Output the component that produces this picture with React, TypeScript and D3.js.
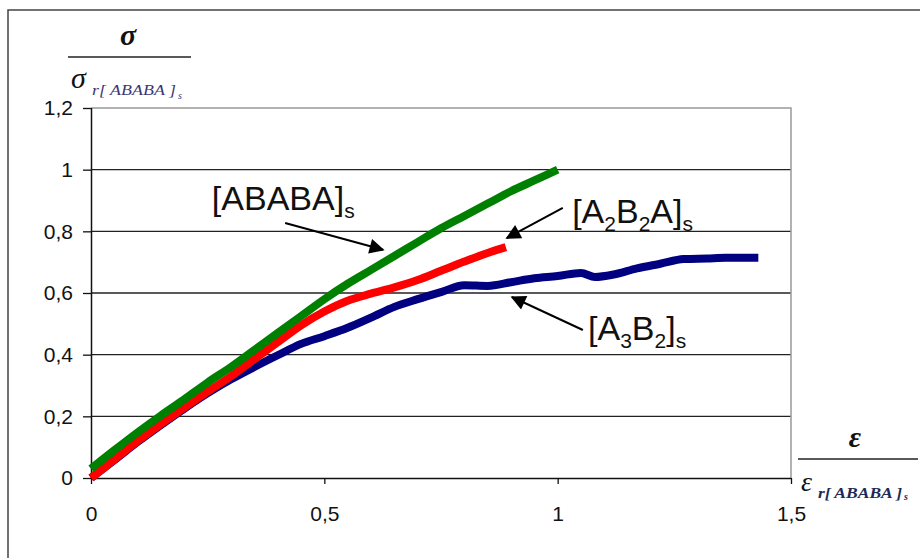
import * as d3 from "d3";
import { useEffect, useRef } from "react";

// strain / strain_r values
const ababaX = [0, 0.05, 0.1, 0.15, 0.2, 0.25, 0.3, 0.35, 0.4, 0.45, 0.5, 0.55, 0.6, 0.65, 0.7, 0.75, 0.8, 0.85, 0.9, 0.95, 1.0];
const ababaY = [0.03, 0.09, 0.148, 0.203, 0.255, 0.31, 0.36, 0.415, 0.47, 0.525, 0.58, 0.63, 0.675, 0.72, 0.765, 0.81, 0.85, 0.89, 0.93, 0.965, 1.0];

const a2b2aX = [0, 0.05, 0.1, 0.15, 0.2, 0.25, 0.3, 0.35, 0.4, 0.45, 0.5, 0.55, 0.6, 0.65, 0.7, 0.75, 0.8, 0.85, 0.889];
const a2b2aY = [0.0, 0.06, 0.12, 0.175, 0.228, 0.28, 0.33, 0.385, 0.44, 0.495, 0.54, 0.575, 0.598, 0.618, 0.642, 0.672, 0.702, 0.73, 0.749];

const a3b2X = [0, 0.05, 0.1, 0.15, 0.2, 0.25, 0.3, 0.35, 0.4, 0.45, 0.5, 0.55, 0.6, 0.65, 0.7, 0.75, 0.8, 0.85, 0.9, 0.95, 1.0, 1.05, 1.08, 1.12, 1.17, 1.22, 1.27, 1.32, 1.36, 1.43];
const a3b2Y = [0, 0.058, 0.117, 0.172, 0.225, 0.275, 0.32, 0.36, 0.398, 0.435, 0.46, 0.487, 0.52, 0.555, 0.58, 0.603, 0.625, 0.623, 0.635, 0.648, 0.655, 0.665, 0.652, 0.66, 0.68, 0.695, 0.71, 0.712, 0.714, 0.714];

const xTicks = [0, 0.5, 1, 1.5];
const yTicks = [0, 0.2, 0.4, 0.6, 0.8, 1, 1.2];

const fmt = (v: number) => String(v).replace(".", ",");

export default function App() {
  const ref = useRef<SVGSVGElement>(null);
  const width = 920;
  const height = 558;

  useEffect(() => {
    const svg = d3.select(ref.current);
    svg.selectAll("*").remove();

    const x = d3.scaleLinear([0, 1.5], [91, 791]);
    const y = d3.scaleLinear([0, 1.2], [478, 108]);
    const sans = "'Liberation Sans', Arial, sans-serif";
    const serif = "'Liberation Serif', 'Times New Roman', serif";

    svg.append("defs").append("marker")
      .attr("id", "head")
      .attr("viewBox", "0 0 10 10")
      .attr("refX", 9).attr("refY", 5)
      .attr("markerWidth", 9).attr("markerHeight", 7.5)
      .attr("markerUnits", "strokeWidth")
      .attr("orient", "auto")
      .append("path").attr("d", "M0,0L10,5L0,10Z").attr("fill", "#000");

    // outer frame
    svg.append("path")
      .attr("d", `M8,${height}V10H${width}`)
      .attr("fill", "none").attr("stroke", "#444").attr("stroke-width", 1.5);

    // grid
    svg.append("g").selectAll("line")
      .data(yTicks.filter((d) => d > 0 && d < 1.2))
      .join("line")
      .attr("x1", x(0)).attr("x2", x(1.5))
      .attr("y1", (d) => y(d)).attr("y2", (d) => y(d))
      .attr("stroke", "#222").attr("stroke-width", 1.3);

    // plot border (grey)
    svg.append("path")
      .attr("d", `M${x(0)},${y(1.2)}H${x(1.5)}V${y(0)}`)
      .attr("fill", "none").attr("stroke", "#999").attr("stroke-width", 1.5);

    // axes
    const yAxis = d3.axisLeft(y).tickValues(yTicks).tickSize(8).tickPadding(10).tickFormat((d) => fmt(+d));
    const gy = svg.append("g").attr("transform", `translate(${x(0)},0)`).call(yAxis);
    const xAxis = d3.axisBottom(x).tickValues(xTicks).tickSize(6).tickPadding(22).tickFormat((d) => fmt(+d));
    const gx = svg.append("g").attr("transform", `translate(0,${y(0)})`).call(xAxis);
    [gx, gy].forEach((g) => {
      g.select(".domain").attr("stroke", "#111").attr("stroke-width", 1.5);
      g.selectAll(".tick line").attr("stroke", "#111").attr("stroke-width", 1.3);
      g.selectAll(".tick text").attr("font-family", sans).attr("font-size", 21).attr("fill", "#111");
    });
    gx.select(".domain").attr("d", `M${x(0)},0.5H${x(1.5)}`);
    gy.select(".domain").attr("d", `M0.5,${y(0)}V${y(1.2)}`);

    // curves
    const line = d3.line<[number, number]>().x((d) => x(d[0])).y((d) => y(d[1])).curve(d3.curveMonotoneX);
    const series: [number[], number[], string][] = [
      [a3b2X, a3b2Y, "#000080"],
      [a2b2aX, a2b2aY, "#ff0000"],
      [ababaX, ababaY, "#008000"],
    ];
    series.forEach(([xs, ys, c]) => {
      svg.append("path")
        .attr("d", line(xs.map((v, i) => [v, ys[i]] as [number, number])))
        .attr("fill", "none").attr("stroke", c)
        .attr("stroke-width", 8).attr("stroke-linejoin", "round");
    });

    // annotations
    const labels: { parts: [string, boolean][]; lx: number; ly: number; ax: number[] }[] = [
      { parts: [["[ABABA]", false], ["s", true]], lx: 0.259, ly: 0.869, ax: [0.416, 0.827, 0.626, 0.74] },
      { parts: [["[A", false], ["2", true], ["B", false], ["2", true], ["A]", false], ["s", true]], lx: 1.031, ly: 0.827, ax: [1.011, 0.876, 0.891, 0.778] },
      { parts: [["[A", false], ["3", true], ["B", false], ["2", true], ["]", false], ["s", true]], lx: 1.065, ly: 0.448, ax: [1.054, 0.48, 0.902, 0.587] },
    ];
    labels.forEach((l) => {
      svg.append("line")
        .attr("x1", x(l.ax[0])).attr("y1", y(l.ax[1]))
        .attr("x2", x(l.ax[2])).attr("y2", y(l.ax[3]))
        .attr("stroke", "#000").attr("stroke-width", 2)
        .attr("marker-end", "url(#head)");
      const t = svg.append("text")
        .attr("x", x(l.lx)).attr("y", y(l.ly))
        .attr("font-family", sans).attr("font-size", 34).attr("fill", "#111");
      l.parts.forEach(([s, sub], i) => {
        const prevSub = i > 0 && l.parts[i - 1][1];
        t.append("tspan")
          .attr("font-size", sub ? 21 : 34)
          .attr("dy", sub ? 8 : prevSub ? -8 : 0)
          .text(s);
      });
    });

    // y axis title (fraction)
    svg.append("text").attr("x", 128).attr("y", 45).attr("text-anchor", "middle")
      .attr("font-family", serif).attr("font-size", 30).attr("font-weight", "bold").attr("font-style", "italic")
      .attr("fill", "#111").text("σ");
    svg.append("line").attr("x1", 68).attr("x2", 191).attr("y1", 57).attr("y2", 57)
      .attr("stroke", "#222").attr("stroke-width", 1.5);
    svg.append("text").attr("x", 71).attr("y", 88)
      .attr("font-family", serif).attr("font-style", "italic").attr("fill", "#111").attr("font-size", 30)
      .text("σ");
    svg.append("text").attr("x", 92).attr("y", 95)
      .attr("font-family", serif).attr("font-style", "italic").attr("fill", "#3b3575").attr("font-size", 14)
      .attr("textLength", 84).attr("lengthAdjust", "spacingAndGlyphs")
      .text("r[ ABABA ]");
    svg.append("text").attr("x", 178).attr("y", 99)
      .attr("font-family", serif).attr("font-style", "italic").attr("fill", "#3b3575").attr("font-size", 10)
      .text("s");

    // x axis title (fraction)
    svg.append("text").attr("x", 855).attr("y", 447).attr("text-anchor", "middle")
      .attr("font-family", serif).attr("font-size", 30).attr("font-weight", "bold").attr("font-style", "italic")
      .attr("fill", "#111").text("ε");
    svg.append("line").attr("x1", 798).attr("x2", 918).attr("y1", 459).attr("y2", 459)
      .attr("stroke", "#222").attr("stroke-width", 1.5);
    svg.append("text").attr("x", 801).attr("y", 491)
      .attr("font-family", serif).attr("font-style", "italic").attr("fill", "#111").attr("font-size", 28)
      .text("ε");
    svg.append("text").attr("x", 818).attr("y", 498)
      .attr("font-family", serif).attr("font-style", "italic").attr("font-weight", "bold")
      .attr("fill", "#1d2a55").attr("font-size", 14)
      .attr("textLength", 84).attr("lengthAdjust", "spacingAndGlyphs")
      .text("r[ ABABA ]");
    svg.append("text").attr("x", 904).attr("y", 500)
      .attr("font-family", serif).attr("font-style", "italic").attr("font-weight", "bold")
      .attr("fill", "#1d2a55").attr("font-size", 10)
      .text("s");
  }, []);

  return (
    <svg ref={ref} width={width} height={height}
      style={{ position: "absolute", left: 0, top: 0, background: "#fff" }} />
  );
}
